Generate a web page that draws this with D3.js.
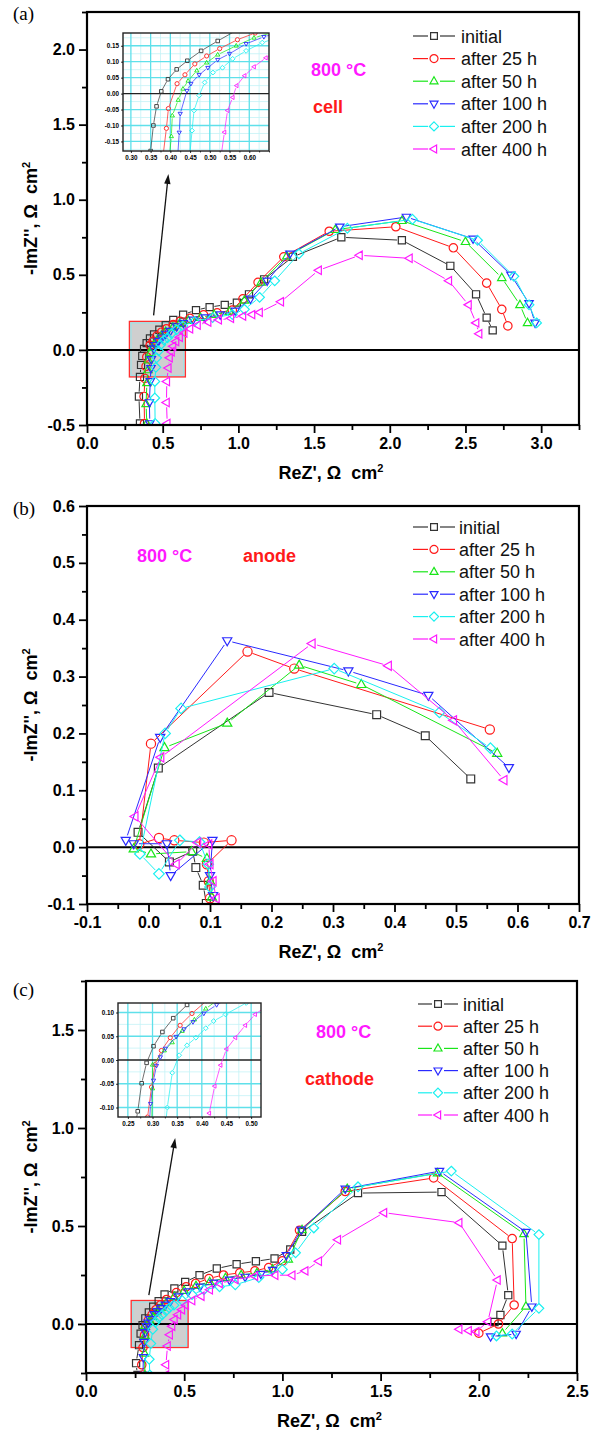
<!DOCTYPE html>
<html>
<head>
<meta charset="utf-8">
<script src="https://cdn.jsdelivr.net/npm/d3@7"></script>
<style>
  body { margin: 0; background: #fff; }
  svg { display: block; }
  text { font-family: "Liberation Sans", Arial, sans-serif; }
</style>
</head>
<body>
<div id="chart"></div>
<script>
var width = 601;
var height = 1431;

// legend entries, one per ageing time
var seriesNames = ["initial", "after 25 h", "after 50 h", "after 100 h", "after 200 h", "after 400 h"];

// (a) whole cell, [ReZ', -ImZ'']
var cellInitial = [[0.35,-0.49],[0.343,-0.31],[0.35,-0.18],[0.357,-0.10],[0.365,-0.04],[0.377,0.007],[0.394,0.045],[0.416,0.076],[0.443,0.103],[0.478,0.134],[0.52,0.165],[0.57,0.20],[0.635,0.235],[0.72,0.265],[0.81,0.285],[0.91,0.30],[0.99,0.315],[1.07,0.37],[1.17,0.47],[1.36,0.62],[1.68,0.75],[2.08,0.73],[2.40,0.56],[2.57,0.37],[2.64,0.215],[2.68,0.13]];
var cell25 = [[0.38,-0.49],[0.377,-0.31],[0.382,-0.19],[0.39,-0.109],[0.395,-0.047],[0.417,0.031],[0.437,0.059],[0.462,0.093],[0.492,0.118],[0.525,0.141],[0.57,0.169],[0.615,0.19],[0.68,0.21],[0.77,0.233],[0.86,0.247],[0.96,0.265],[1.03,0.34],[1.13,0.45],[1.30,0.62],[1.60,0.79],[2.04,0.82],[2.42,0.68],[2.64,0.445],[2.74,0.27],[2.78,0.16]];
var cell50 = [[0.395,-0.49],[0.39,-0.36],[0.396,-0.22],[0.4025,-0.134],[0.405,-0.069],[0.42,-0.02],[0.432,0.015],[0.445,0.04],[0.467,0.072],[0.492,0.097],[0.52,0.122],[0.567,0.15],[0.612,0.175],[0.67,0.195],[0.75,0.215],[0.84,0.235],[0.94,0.255],[1.04,0.33],[1.15,0.45],[1.32,0.625],[1.64,0.80],[2.08,0.86],[2.50,0.72],[2.74,0.48],[2.86,0.30],[2.91,0.18]];
var cell100 = [[0.415,-0.49],[0.412,-0.35],[0.418,-0.21],[0.4225,-0.122],[0.425,-0.063],[0.442,0.009],[0.452,0.031],[0.473,0.059],[0.495,0.081],[0.52,0.106],[0.55,0.125],[0.592,0.156],[0.637,0.178],[0.70,0.20],[0.78,0.215],[0.88,0.235],[0.98,0.26],[1.08,0.34],[1.19,0.46],[1.34,0.64],[1.67,0.82],[2.11,0.885],[2.55,0.74],[2.80,0.50],[2.92,0.31],[2.96,0.18]];
var cell200 = [[0.45,-0.49],[0.448,-0.32],[0.448,-0.21],[0.455,-0.116],[0.46,-0.053],[0.473,-0.006],[0.487,0.035],[0.508,0.066],[0.532,0.081],[0.558,0.109],[0.592,0.134],[0.633,0.16],[0.71,0.19],[0.83,0.215],[0.96,0.235],[1.04,0.27],[1.14,0.35],[1.24,0.46],[1.40,0.64],[1.72,0.81],[2.15,0.87],[2.58,0.73],[2.82,0.49],[2.92,0.30],[2.97,0.18]];
var cell400 = [[0.53,-0.49],[0.525,-0.35],[0.527,-0.21],[0.537,-0.121],[0.545,-0.053],[0.558,-0.012],[0.568,0.025],[0.588,0.056],[0.612,0.084],[0.642,0.112],[0.68,0.14],[0.73,0.165],[0.80,0.185],[0.87,0.20],[0.95,0.21],[1.03,0.225],[1.09,0.235],[1.14,0.25],[1.28,0.32],[1.53,0.53],[1.80,0.63],[2.13,0.61],[2.39,0.46],[2.52,0.30],[2.57,0.18],[2.59,0.107]];

// (b) anode
var anodeInitial = [[0.094,-0.099],[0.089,-0.067],[0.077,-0.036],[0.072,-0.007],[0.034,-0.026],[-0.017,0.026],[0.016,0.139],[0.196,0.272],[0.371,0.233],[0.45,0.196],[0.524,0.12]];
var anode25 = [[0.1,-0.09],[0.098,-0.06],[0.095,-0.03],[0.135,0.012],[0.09,0.008],[0.042,0.012],[0.017,0.016],[-0.015,0.005],[0.004,0.182],[0.161,0.344],[0.237,0.314],[0.555,0.207]];
var anode50 = [[0.103,-0.088],[0.1,-0.06],[0.095,-0.02],[0.07,-0.008],[0.004,-0.012],[-0.024,-0.003],[0.026,0.175],[0.128,0.218],[0.245,0.32],[0.346,0.286],[0.567,0.165]];
var anode100 = [[0.105,-0.085],[0.1,-0.05],[0.104,0.012],[0.036,-0.05],[0.03,0.006],[-0.024,0.006],[-0.037,0.012],[0.019,0.193],[0.128,0.363],[0.325,0.31],[0.455,0.267],[0.586,0.14]];
var anode200 = [[0.1,-0.07],[0.097,-0.03],[0.083,0.009],[0.051,0.012],[0.017,-0.047],[-0.014,-0.012],[0.027,0.2],[0.053,0.244],[0.302,0.314],[0.473,0.237],[0.556,0.174]];
var anode400 = [[0.11,-0.09],[0.105,-0.06],[0.1,-0.03],[0.098,0.005],[0.08,0.008],[0.045,-0.03],[-0.022,0.054],[0.02,0.158],[0.266,0.358],[0.39,0.319],[0.496,0.223],[0.578,0.118]];

// (c) cathode
var cathodeInitial = [[0.262,-0.26],[0.255,-0.2],[0.27,-0.108],[0.278,-0.049],[0.288,-0.006],[0.302,0.029],[0.32,0.059],[0.342,0.088],[0.37,0.116],[0.40,0.151],[0.45,0.181],[0.505,0.215],[0.578,0.249],[0.666,0.283],[0.767,0.305],[0.865,0.32],[0.96,0.334],[1.04,0.38],[1.1,0.47],[1.385,0.668],[1.81,0.673],[2.12,0.40],[2.15,0.147],[2.11,0.046],[2.08,0.01]];
var cathode25 = [[0.29,-0.26],[0.284,-0.208],[0.29,-0.12],[0.298,-0.057],[0.305,-0.01],[0.318,0.02],[0.336,0.047],[0.356,0.073],[0.38,0.098],[0.41,0.125],[0.46,0.16],[0.51,0.19],[0.558,0.207],[0.626,0.232],[0.70,0.25],[0.783,0.261],[0.86,0.271],[0.93,0.288],[1.0,0.322],[1.087,0.478],[1.32,0.676],[1.77,0.745],[2.17,0.436],[2.18,0.097],[2.1,0.0],[2.0,-0.047]];
var cathode50 = [[0.3,-0.26],[0.298,-0.15],[0.30,-0.06],[0.30,-0.01],[0.324,0.02],[0.34,0.037],[0.36,0.061],[0.385,0.085],[0.408,0.108],[0.45,0.14],[0.5,0.17],[0.56,0.195],[0.63,0.215],[0.71,0.235],[0.79,0.25],[0.87,0.26],[0.95,0.28],[1.03,0.33],[1.10,0.48],[1.33,0.69],[1.79,0.77],[2.23,0.46],[2.24,0.09],[2.12,-0.047]];
var cathode100 = [[0.29,-0.26],[0.292,-0.17],[0.296,-0.092],[0.302,-0.043],[0.308,-0.012],[0.316,0.006],[0.326,0.024],[0.348,0.049],[0.364,0.065],[0.382,0.08],[0.404,0.098],[0.43,0.116],[0.47,0.14],[0.52,0.165],[0.58,0.19],[0.65,0.21],[0.73,0.225],[0.81,0.24],[0.89,0.255],[0.95,0.275],[1.02,0.35],[1.096,0.48],[1.32,0.69],[1.80,0.78],[2.24,0.469],[2.27,0.088],[2.19,-0.051],[2.06,-0.064]];
var cathode200 = [[0.325,-0.26],[0.322,-0.18],[0.33,-0.1],[0.34,-0.027],[0.354,0.01],[0.37,0.031],[0.388,0.047],[0.408,0.067],[0.424,0.082],[0.448,0.096],[0.49,0.12],[0.54,0.15],[0.6,0.175],[0.68,0.19],[0.76,0.2],[0.88,0.237],[1.0,0.278],[1.067,0.363],[1.16,0.49],[1.385,0.70],[1.86,0.78],[2.306,0.456],[2.306,0.08],[2.17,-0.051],[2.09,-0.061]];
var cathode400 = [[0.407,-0.26],[0.407,-0.208],[0.415,-0.112],[0.426,-0.055],[0.438,-0.011],[0.45,0.023],[0.468,0.047],[0.488,0.073],[0.508,0.096],[0.54,0.12],[0.587,0.142],[0.63,0.175],[0.68,0.207],[0.76,0.227],[0.86,0.244],[0.963,0.249],[1.05,0.249],[1.116,0.271],[1.185,0.32],[1.282,0.43],[1.517,0.568],[1.9,0.517],[2.095,0.224],[2.046,0.012],[1.987,-0.039],[1.948,-0.034],[1.9,-0.027]];

// tick labels
var cellXTicks = [0, 0.5, 1, 1.5, 2, 2.5, 3];
var cellYTicks = [-0.5, 0, 0.5, 1, 1.5, 2];
var anodeXTicks = [-0.1, 0, 0.1, 0.2, 0.3, 0.4, 0.5, 0.6, 0.7];
var anodeYTicks = [-0.1, 0, 0.1, 0.2, 0.3, 0.4, 0.5, 0.6];
var cathodeXTicks = [0, 0.5, 1, 1.5, 2, 2.5];
var cathodeYTicks = [0, 0.5, 1, 1.5];
var cellInsetXTicks = [0.30, 0.35, 0.40, 0.45, 0.50, 0.55, 0.60];
var cellInsetYTicks = [-0.15, -0.10, -0.05, 0, 0.05, 0.10, 0.15];
var cathodeInsetXTicks = [0.25, 0.30, 0.35, 0.40, 0.45, 0.50];
var cathodeInsetYTicks = [-0.10, -0.05, 0, 0.05, 0.10];

var colors = ["#333333", "#ff1a1a", "#19e619", "#2a2aff", "#19f0f0", "#ff19ff"];
var shapes = ["square", "circle", "up", "down", "diamond", "left"];

var svg = d3.select("#chart").append("svg")
  .attr("width", width)
  .attr("height", height);
svg.append("rect").attr("width", width).attr("height", height).attr("fill", "#fff");

function shapePath(s, r) {
  var h;
  switch (s) {
    case "square": h = r * 0.85; return "M" + (-h) + "," + (-h) + "H" + h + "V" + h + "H" + (-h) + "Z";
    case "circle": return "M" + r + ",0A" + r + "," + r + " 0 1,1 " + (-r) + ",0A" + r + "," + r + " 0 1,1 " + r + ",0Z";
    case "up": return "M0," + (-r * 1.1) + "L" + r + "," + (r * 0.65) + "L" + (-r) + "," + (r * 0.65) + "Z";
    case "down": return "M0," + (r * 1.1) + "L" + r + "," + (-r * 0.65) + "L" + (-r) + "," + (-r * 0.65) + "Z";
    case "diamond": h = r * 1.15; return "M0," + (-h) + "L" + h + ",0L0," + h + "L" + (-h) + ",0Z";
    case "left": return "M" + (-r * 1.1) + ",0L" + (r * 0.65) + "," + (-r) + "L" + (r * 0.65) + "," + r + "Z";
  }
}

// lines stop at the symbol edge, like Origin does
function drawSeries(layer, data, x, y, color, shape, r, sw) {
  var pts = data.map(function(d) { return [x(d[0]), y(d[1])]; });
  var d = "";
  for (var i = 1; i < pts.length; i++) {
    var a = pts[i - 1], b = pts[i];
    var dx = b[0] - a[0], dy = b[1] - a[1];
    var len = Math.sqrt(dx * dx + dy * dy);
    var gap = r + 0.6;
    if (len <= 2 * gap) continue;
    var ux = dx / len, uy = dy / len;
    d += "M" + (a[0] + ux * gap) + "," + (a[1] + uy * gap) + "L" + (b[0] - ux * gap) + "," + (b[1] - uy * gap);
  }
  layer.append("path")
    .attr("d", d)
    .attr("fill", "none")
    .attr("stroke", color)
    .attr("stroke-width", sw);
  layer.selectAll(null)
    .data(pts)
    .enter().append("path")
    .attr("transform", function(p) { return "translate(" + p[0] + "," + p[1] + ")"; })
    .attr("d", shapePath(shape, r))
    .attr("fill", "none")
    .attr("stroke", color)
    .attr("stroke-width", sw + 0.2);
}

function minorTicks(domain, step, majors) {
  return d3.range(Math.ceil(domain[0] / step - 1e-6) * step, domain[1] + 1e-6, step)
    .filter(function(v) { return !majors.some(function(m) { return Math.abs(m - v) < 1e-6; }); });
}

function styleAxis(g, fs) {
  g.select(".domain").remove();
  g.selectAll("line").attr("stroke", "#000").attr("stroke-width", 1.8);
  g.selectAll("text")
    .attr("fill", "#000")
    .style("font-size", fs + "px")
    .style("font-weight", "bold")
    .style("font-family", "'Liberation Sans', Arial, sans-serif");
}

function arrow(x1, y1, x2, y2) {
  var ang = Math.atan2(y2 - y1, x2 - x1);
  var L = 10, W = 3.2;
  svg.append("line")
    .attr("x1", x1).attr("y1", y1)
    .attr("x2", x2 - Math.cos(ang) * L * 0.8).attr("y2", y2 - Math.sin(ang) * L * 0.8)
    .attr("stroke", "#111").attr("stroke-width", 1.3);
  var bx = x2 - Math.cos(ang) * L, by = y2 - Math.sin(ang) * L;
  svg.append("path")
    .attr("d", "M" + x2 + "," + y2 +
      "L" + (bx + Math.sin(ang) * W) + "," + (by - Math.cos(ang) * W) +
      "L" + (bx - Math.sin(ang) * W) + "," + (by + Math.cos(ang) * W) + "Z")
    .attr("fill", "#111");
}

function drawInset(p, ins, series, mx, my) {
  var x = d3.scaleLinear().domain(ins.xDomain).range([ins.left, ins.right]);
  var y = d3.scaleLinear().domain(ins.yDomain).range([ins.bottom, ins.top]);
  var g = svg.append("g");
  var clipId = "clip-inset-" + p.id;
  svg.append("clipPath").attr("id", clipId).append("rect")
    .attr("x", ins.left).attr("y", ins.top)
    .attr("width", ins.right - ins.left).attr("height", ins.bottom - ins.top);

  g.append("rect")
    .attr("x", ins.left).attr("y", ins.top)
    .attr("width", ins.right - ins.left).attr("height", ins.bottom - ins.top)
    .attr("fill", "#fff");

  var grid = g.append("g").attr("clip-path", "url(#" + clipId + ")");
  var mxs = minorTicks(ins.xDomain, 0.025, ins.xTicks);
  var mys = minorTicks(ins.yDomain, 0.025, ins.yTicks);
  grid.selectAll(".mvx").data(mxs).enter().append("line")
    .attr("x1", x).attr("x2", x).attr("y1", ins.top).attr("y2", ins.bottom)
    .attr("stroke", "#c4f3f6").attr("stroke-width", 0.8);
  grid.selectAll(".mhy").data(mys).enter().append("line")
    .attr("y1", y).attr("y2", y).attr("x1", ins.left).attr("x2", ins.right)
    .attr("stroke", "#c4f3f6").attr("stroke-width", 0.8);
  grid.selectAll(".vx").data(ins.xTicks).enter().append("line")
    .attr("x1", x).attr("x2", x).attr("y1", ins.top).attr("y2", ins.bottom)
    .attr("stroke", "#5fe0ea").attr("stroke-width", 1.3);
  grid.selectAll(".hy").data(ins.yTicks.filter(function(v) { return v !== 0; })).enter().append("line")
    .attr("y1", y).attr("y2", y).attr("x1", ins.left).attr("x2", ins.right)
    .attr("stroke", "#5fe0ea").attr("stroke-width", 1.3);

  g.append("line")
    .attr("x1", ins.left).attr("x2", ins.right)
    .attr("y1", y(0)).attr("y2", y(0))
    .attr("stroke", "#222").attr("stroke-width", 1.3);

  var plot = g.append("g").attr("clip-path", "url(#" + clipId + ")");
  series.forEach(function(data, i) {
    drawSeries(plot, data, x, y, colors[i], shapes[i], 2.1, 0.7);
  });

  g.append("rect")
    .attr("x", ins.left).attr("y", ins.top)
    .attr("width", ins.right - ins.left).attr("height", ins.bottom - ins.top)
    .attr("fill", "none").attr("stroke", "#222").attr("stroke-width", 1.4);

  var xa = g.append("g").attr("transform", "translate(0," + ins.bottom + ")")
    .call(d3.axisBottom(x).tickValues(ins.xTicks).tickSize(2).tickPadding(3)
      .tickFormat(function(d) { return d.toFixed(2); }));
  styleAxis(xa, 6.3);
  xa.selectAll("line").attr("stroke-width", 0.8);
  var xm = g.append("g").attr("transform", "translate(0," + ins.bottom + ")")
    .call(d3.axisBottom(x).tickValues(mxs).tickSize(1.5).tickFormat(""));
  styleAxis(xm, 6);
  xm.selectAll("line").attr("stroke-width", 0.7);
  var ya = g.append("g").attr("transform", "translate(" + ins.left + ",0)")
    .call(d3.axisLeft(y).tickValues(ins.yTicks).tickSize(2).tickPadding(2)
      .tickFormat(function(d) { return d.toFixed(2); }));
  styleAxis(ya, 6.3);
  ya.selectAll("line").attr("stroke-width", 0.8);

  // arrow from the zoom box to the inset
  arrow(mx(ins.arrowFrom[0]), my(ins.arrowFrom[1]), x(ins.arrowTo), ins.bottom + ins.arrowGap);
}

function drawPanel(p) {
  var x = d3.scaleLinear().domain(p.xDomain).range([p.left, p.right]);
  var y = d3.scaleLinear().domain(p.yDomain).range([p.bottom, p.top]);
  var g = svg.append("g");
  var clipId = "clip-" + p.id;
  svg.append("clipPath").attr("id", clipId).append("rect")
    .attr("x", p.left).attr("y", p.top)
    .attr("width", p.right - p.left).attr("height", p.bottom - p.top);

  if (p.zoomBox) {
    var zb = p.zoomBox;
    g.append("rect")
      .attr("x", x(zb[0])).attr("y", y(zb[3]))
      .attr("width", x(zb[1]) - x(zb[0])).attr("height", y(zb[2]) - y(zb[3]))
      .attr("fill", "#cfcfcf").attr("stroke", "#ff3030").attr("stroke-width", 1.3);
    g.append("rect")
      .attr("x", x(zb[0]) + 1.6).attr("y", y(zb[3]) + 1.6)
      .attr("width", x(zb[1]) - x(zb[0]) - 3.2).attr("height", y(zb[2]) - y(zb[3]) - 3.2)
      .attr("fill", "none").attr("stroke", "#8ee8ee").attr("stroke-width", 0.9);
  }

  g.append("line")
    .attr("x1", p.left).attr("x2", p.right)
    .attr("y1", y(0)).attr("y2", y(0))
    .attr("stroke", "#000").attr("stroke-width", 2);

  var plot = g.append("g").attr("clip-path", "url(#" + clipId + ")");
  p.series.forEach(function(data, i) {
    drawSeries(plot, data, x, y, colors[i], shapes[i], p.r, 1);
  });

  g.append("rect")
    .attr("x", p.left).attr("y", p.top)
    .attr("width", p.right - p.left).attr("height", p.bottom - p.top)
    .attr("fill", "none").attr("stroke", "#000").attr("stroke-width", 2.2);

  var fmt = function(d) { return d.toFixed(1); };
  var xa = g.append("g").attr("transform", "translate(0," + p.bottom + ")")
    .call(d3.axisBottom(x).tickValues(p.xTicks).tickSize(8).tickPadding(5).tickFormat(fmt));
  styleAxis(xa, 16);
  var xm = g.append("g").attr("transform", "translate(0," + p.bottom + ")")
    .call(d3.axisBottom(x).tickValues(minorTicks(p.xDomain, p.xMinor, p.xTicks)).tickSize(5).tickFormat(""));
  styleAxis(xm, 16);
  var ya = g.append("g").attr("transform", "translate(" + p.left + ",0)")
    .call(d3.axisLeft(y).tickValues(p.yTicks).tickSize(8).tickPadding(4).tickFormat(fmt));
  styleAxis(ya, 16);
  var ym = g.append("g").attr("transform", "translate(" + p.left + ",0)")
    .call(d3.axisLeft(y).tickValues(minorTicks(p.yDomain, p.yMinor, p.yTicks)).tickSize(5).tickFormat(""));
  styleAxis(ym, 16);

  // axis titles
  var xt = g.append("text")
    .attr("x", (p.left + p.right) / 2 - 2).attr("y", p.bottom + 54)
    .attr("text-anchor", "middle")
    .style("font-size", "18px").style("font-weight", "bold");
  xt.append("tspan").text("ReZ', \u03A9\u00A0 cm");
  xt.append("tspan").attr("dy", -7).style("font-size", "11px").text("2");

  var yt = g.append("text")
    .attr("transform", "translate(37," + (p.top + p.bottom) / 2 + ") rotate(-90)")
    .attr("text-anchor", "middle")
    .style("font-size", "18px").style("font-weight", "bold");
  yt.append("tspan").text("-ImZ'', \u03A9\u00A0 cm");
  yt.append("tspan").attr("dy", -7).style("font-size", "11px").text("2");

  // panel letter
  g.append("text")
    .attr("x", 13).attr("y", p.labelY)
    .style("font-family", "'Liberation Serif', 'Times New Roman', serif")
    .style("font-size", "19px")
    .text(p.label);

  // notes
  p.notes.forEach(function(n) {
    g.append("text")
      .attr("x", n.x).attr("y", n.y)
      .attr("fill", n.color)
      .style("font-size", "18px").style("font-weight", "bold")
      .text(n.text);
  });

  // legend
  var lg = p.legend;
  seriesNames.forEach(function(name, i) {
    var ry = lg.y + i * lg.dy;
    var cx = (lg.x0 + lg.x1) / 2;
    var row = g.append("g");
    row.append("line").attr("x1", lg.x0).attr("x2", cx - 6).attr("y1", ry).attr("y2", ry)
      .attr("stroke", colors[i]).attr("stroke-width", 1.2);
    row.append("line").attr("x1", cx + 6).attr("x2", lg.x1).attr("y1", ry).attr("y2", ry)
      .attr("stroke", colors[i]).attr("stroke-width", 1.2);
    row.append("path").attr("transform", "translate(" + cx + "," + ry + ")")
      .attr("d", shapePath(shapes[i], 4))
      .attr("fill", "none").attr("stroke", colors[i]).attr("stroke-width", 1.2);
    row.append("text")
      .attr("x", lg.tx).attr("y", ry + 6.5)
      .attr("fill", "#111")
      .style("font-size", "18px")
      .text(name);
  });

  if (p.inset) drawInset(p, p.inset, p.series, x, y);
}

var panels = [
  {
    id: "a", left: 87, right: 579, top: 12, bottom: 425,
    xDomain: [0, 3.25], yDomain: [-0.5, 2.25],
    xTicks: cellXTicks, yTicks: cellYTicks, xMinor: 0.25, yMinor: 0.25,
    series: [cellInitial, cell25, cell50, cell100, cell200, cell400],
    r: 4.2, label: "(a)", labelY: 20,
    legend: { x0: 413, x1: 455, tx: 461, y: 36, dy: 22.6 },
    notes: [
      { text: "800 \u00B0C", x: 311, y: 76, color: "#ff19ff" },
      { text: "cell", x: 313, y: 113, color: "#ff1a1a" }
    ],
    zoomBox: [0.28, 0.65, -0.18, 0.19],
    inset: {
      left: 123, right: 269, top: 33, bottom: 151,
      xDomain: [0.28, 0.65], yDomain: [-0.18, 0.19],
      xTicks: cellInsetXTicks, yTicks: cellInsetYTicks,
      arrowFrom: [0.44, 0.23], arrowTo: 0.395, arrowGap: 23
    }
  },
  {
    id: "b", left: 87, right: 579, top: 506, bottom: 904,
    xDomain: [-0.1, 0.7], yDomain: [-0.1, 0.6],
    xTicks: anodeXTicks, yTicks: anodeYTicks, xMinor: 0.05, yMinor: 0.05,
    series: [anodeInitial, anode25, anode50, anode100, anode200, anode400],
    r: 4.6, label: "(b)", labelY: 515,
    legend: { x0: 413, x1: 455, tx: 459, y: 527, dy: 22.4 },
    notes: [
      { text: "800 \u00B0C", x: 137, y: 562, color: "#ff19ff" },
      { text: "anode", x: 243, y: 562, color: "#ff1a1a" }
    ]
  },
  {
    id: "c", left: 86, right: 577, top: 981, bottom: 1373,
    xDomain: [0, 2.5], yDomain: [-0.25, 1.75],
    xTicks: cathodeXTicks, yTicks: cathodeYTicks, xMinor: 0.25, yMinor: 0.25,
    series: [cathodeInitial, cathode25, cathode50, cathode100, cathode200, cathode400],
    r: 4.2, label: "(c)", labelY: 996,
    legend: { x0: 418, x1: 458, tx: 463, y: 1004, dy: 22.2 },
    notes: [
      { text: "800 \u00B0C", x: 316, y: 1038, color: "#ff19ff" },
      { text: "cathode", x: 305, y: 1085, color: "#ff1a1a" }
    ],
    zoomBox: [0.23, 0.52, -0.12, 0.12],
    inset: {
      left: 118, right: 261, top: 1003, bottom: 1117,
      xDomain: [0.23, 0.52], yDomain: [-0.12, 0.12],
      xTicks: cathodeInsetXTicks, yTicks: cathodeInsetYTicks,
      arrowFrom: [0.32, 0.147], arrowTo: 0.346, arrowGap: 21
    }
  }
];

panels.forEach(drawPanel);
</script>
</body>
</html>
